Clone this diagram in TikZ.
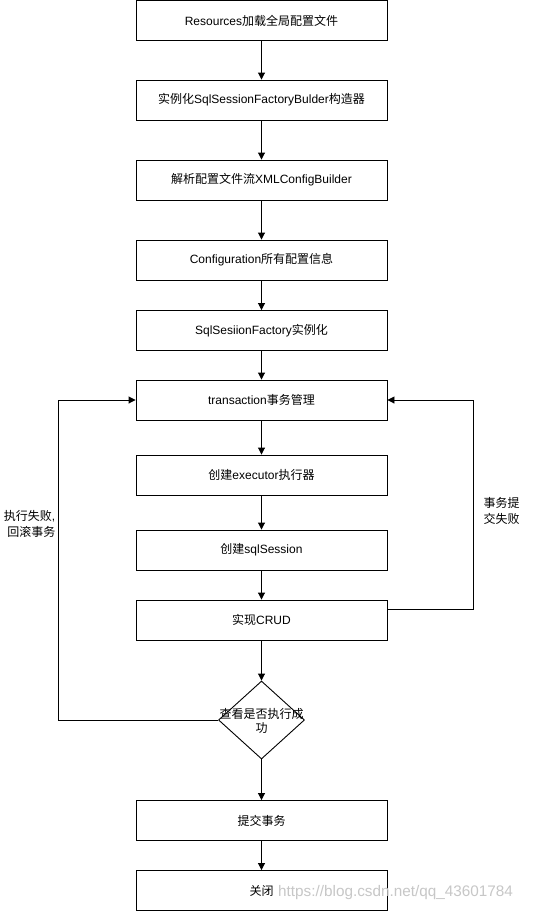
\documentclass[tikz,border=0pt]{standalone}
\usepackage{fontspec}
\setmainfont{Liberation Sans}
\newfontfamily\cjk{Noto Sans CJK SC}
\usetikzlibrary{shapes.geometric,arrows.meta}
\tikzset{
  box/.style={draw=black, line width=0.9pt, fill=white, minimum width=251pt, minimum height=40pt, inner sep=0pt, font=\fontsize{12pt}{14pt}\selectfont},
  decision/.style={draw=black, line width=0.9pt, fill=white, diamond, minimum width=86pt, minimum height=78pt, inner sep=0pt, aspect=1},
  dtext/.style={inner sep=0pt, font=\fontsize{12pt}{13.5pt}\selectfont, align=center},
  conn/.style={draw=black, line width=0.9pt, -{Triangle[length=7pt,width=7pt]}},
  lbl/.style={font=\fontsize{12pt}{16pt}\selectfont, inner sep=0pt},
}
\begin{document}
\begin{tikzpicture}[x=1pt,y=-1pt]
\useasboundingbox (0,0) rectangle (541,911);
\fill[white] (0,0) rectangle (541,911);
\node[box] (n1) at (261.5,20.5) {Resources{\cjk 加载全局配置文件}};
\node[box] (n2) at (261.5,100) {{\cjk 实例化}SqlSessionFactoryBulder{\cjk 构造器}};
\node[box] (n3) at (261.5,180) {{\cjk 解析配置文件流}XMLConfigBuilder};
\node[box] (n4) at (261.5,260) {Configuration{\cjk 所有配置信息}};
\node[box] (n5) at (261.5,330.5) {SqlSesiionFactory{\cjk 实例化}};
\node[box] (n6) at (261.5,400) {transaction{\cjk 事务管理}};
\node[box] (n7) at (261.5,475) {{\cjk 创建}executor{\cjk 执行器}};
\node[box] (n8) at (261.5,550) {{\cjk 创建}sqlSession};
\node[box] (n9) at (261.5,620) {{\cjk 实现}CRUD};
\node[decision] (d) at (261.5,720) {};
\node[dtext] (dt) at (261.5,721) {{\cjk 查看是否执行成}\\{\cjk 功}};
\node[box] (n10) at (261.5,820.5) {{\cjk 提交事务}};
\node[box] (n11) at (261.5,890.5) {{\cjk 关闭}};
\node[anchor=west, inner sep=0pt, text=black!22, font=\fontsize{15.3pt}{17pt}\selectfont] (wm) at (278,893) {https://blog.csdn.net/qq\_43601784};

\coordinate (la) at (58.5,720);
\coordinate (lb) at (58.5,400);
\coordinate (ra) at (473.5,609);
\coordinate (rb) at (473.5,400);

\draw[conn] (n1) -- (n2);
\draw[conn] (n2) -- (n3);
\draw[conn] (n3) -- (n4);
\draw[conn] (n4) -- (n5);
\draw[conn] (n5) -- (n6);
\draw[conn] (n6) -- (n7);
\draw[conn] (n7) -- (n8);
\draw[conn] (n8) -- (n9);
\draw[conn] (n9) -- (d);
\draw[conn] (d) -- (n10);
\draw[conn] (n10) -- (n11);
\draw[conn] (d.west) -- (la) -- (lb) -- (n6.west);
\draw[conn] (n9.east |- ra) -- (ra) -- (rb) -- (n6.east);

\node[lbl, anchor=east, align=right] (l1) at (55.5,524) {{\cjk 执行失败},\\{\cjk 回滚事务}};
\node[lbl, align=center] (l2) at (501.5,511) {{\cjk 事务提}\\{\cjk 交失败}};
\end{tikzpicture}
\end{document}
